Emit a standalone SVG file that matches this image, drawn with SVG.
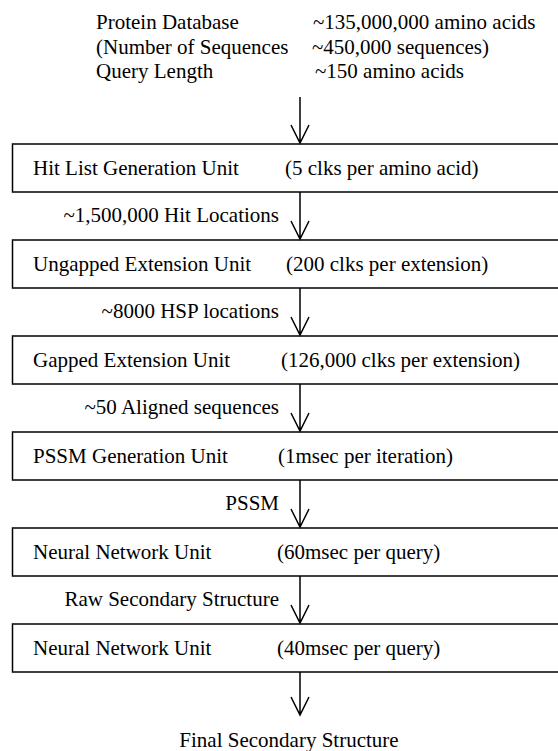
<svg xmlns="http://www.w3.org/2000/svg" width="558" height="751" viewBox="0 0 558 751">
<style>
text{font-family:"Liberation Serif","Times New Roman",serif;font-size:21px;fill:#000}
.box{fill:#fff;stroke:#000;stroke-width:1.5}
.ln{stroke:#000;stroke-width:1.5;fill:none}
.lbl{text-anchor:end}
</style>
<rect width="558" height="751" fill="#fff"/>
<g id="input">
<text x="96" y="29">Protein Database</text>
<text x="313" y="29">~135,000,000 amino acids</text>
<text x="96" y="54">(Number of Sequences</text>
<text x="312" y="54">~450,000 sequences)</text>
<text x="96" y="78">Query Length</text>
<text x="315" y="78">~150 amino acids</text>
</g>
<g id="hitlist"><rect class="box" x="12.5" y="144" width="560" height="48"/><text x="33" y="175">Hit List Generation Unit</text><text x="285" y="175">(5 clks per amino acid)</text></g>
<g id="ungapped"><rect class="box" x="12.5" y="240" width="560" height="48"/><text x="33" y="271">Ungapped Extension Unit</text><text x="286" y="271">(200 clks per extension)</text></g>
<g id="gapped"><rect class="box" x="12.5" y="336" width="560" height="48"/><text x="33" y="367">Gapped Extension Unit</text><text x="281" y="367">(126,000 clks per extension)</text></g>
<g id="pssm"><rect class="box" x="12.5" y="432" width="560" height="48"/><text x="33" y="463">PSSM Generation Unit</text><text x="278" y="463">(1msec per iteration)</text></g>
<g id="nn1"><rect class="box" x="12.5" y="528" width="560" height="48"/><text x="33" y="559">Neural Network Unit</text><text x="277" y="559">(60msec per query)</text></g>
<g id="nn2"><rect class="box" x="12.5" y="624" width="560" height="48"/><text x="33" y="655">Neural Network Unit</text><text x="277" y="655">(40msec per query)</text></g>
<g id="output"><text x="289" y="747" text-anchor="middle">Final Secondary Structure</text></g>
<g id="connectors">
<path class="ln" d="M300 97V143M291 125L300 143L309 125"/>
<path class="ln" d="M300 192V239M291 221L300 239L309 221"/>
<path class="ln" d="M300 288V335M291 317L300 335L309 317"/>
<path class="ln" d="M300 384V431M291 413L300 431L309 413"/>
<path class="ln" d="M300 480V527M291 509L300 527L309 509"/>
<path class="ln" d="M300 576V623M291 605L300 623L309 605"/>
<path class="ln" d="M300 672V715M291 697L300 715L309 697"/>
<text class="lbl" x="279" y="222">~1,500,000 Hit Locations</text>
<text class="lbl" x="279" y="318">~8000 HSP locations</text>
<text class="lbl" x="279" y="414">~50 Aligned sequences</text>
<text class="lbl" x="279" y="510">PSSM</text>
<text class="lbl" x="279" y="606">Raw Secondary Structure</text>
</g>
</svg>
